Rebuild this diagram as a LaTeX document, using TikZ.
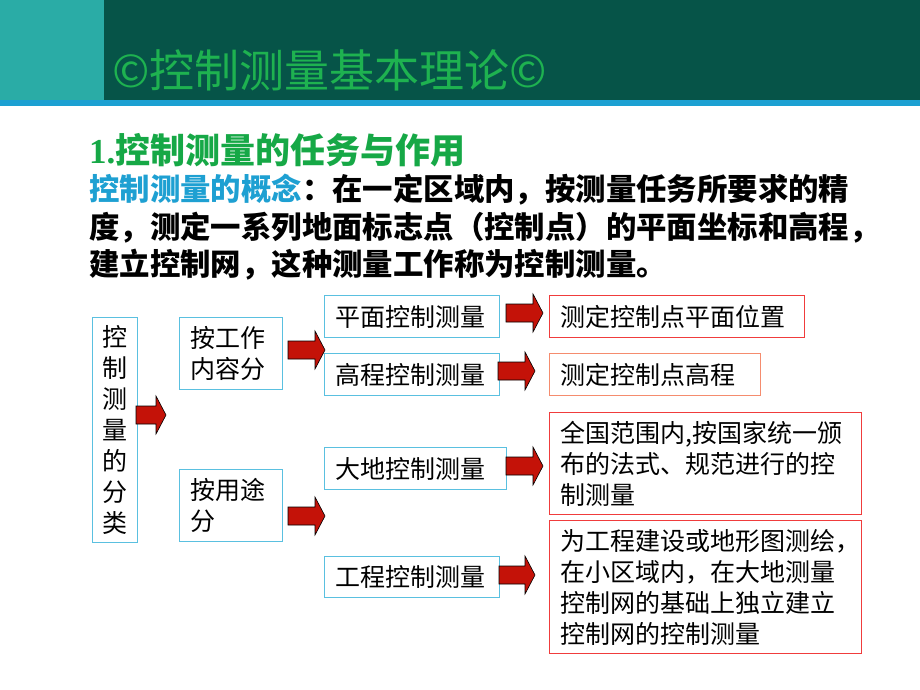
\documentclass[tikz,border=0pt]{standalone}
\usepackage{fontspec}
\setmainfont{Noto Sans CJK SC}
\newfontfamily\latinserif{Liberation Serif}
\definecolor{bandlight}{RGB}{42,172,166}
\definecolor{banddark}{RGB}{6,84,72}
\definecolor{bandblue}{RGB}{28,160,210}
\definecolor{titlegreen}{RGB}{30,178,80}
\definecolor{headgreen}{RGB}{22,168,70}
\definecolor{termblue}{RGB}{30,160,210}
\definecolor{boxblue}{RGB}{90,192,224}
\definecolor{boxred}{RGB}{240,60,60}
\definecolor{boxorange}{RGB}{245,140,110}
\definecolor{arrowred}{RGB}{196,18,8}
\tikzset{
  pbox/.style={draw=boxblue, line width=1.1pt, anchor=north west, inner xsep=11pt, inner ysep=0pt,
    font=\fontsize{25}{31}\selectfont, align=left},
  rbox/.style={pbox, draw=boxred},
  bodyline/.style={anchor=west, inner sep=0pt, font=\fontsize{30.4}{36}\selectfont\bfseries},
  barrowst/.style={fill=arrowred, draw=black, line width=0.6pt, line join=miter},
  pics/blockarrow/.style={code={
    \draw[barrowst] (0,-9) -- (#1-10,-9) -- (#1-10,-19) -- (#1,0) -- (#1-10,19) -- (#1-10,9) -- (0,9) -- cycle;
  }}
}
\begin{document}
\begin{tikzpicture}[x=1pt,y=-1pt]
\useasboundingbox (0,0) rectangle (920,690);
\fill[white] (0,0) rectangle (920,690);
% header band
\fill[bandlight] (0,0) rectangle (104,100);
\fill[banddark] (104,0) rectangle (920,100);
\fill[bandblue] (0,100) rectangle (920,106);
\node[anchor=west, inner sep=0pt, text=titlegreen, font=\fontsize{45}{52}\selectfont] (title) at (112,70) {©控制测量基本理论©};
% heading and concept text
\node[anchor=west, inner sep=0pt, text=headgreen, font=\fontsize{35}{40}\selectfont\bfseries] (head) at (89,150) {{\latinserif 1.}控制测量的任务与作用};
\node[bodyline] (l1) at (89,190) {\textcolor{termblue}{控制测量的概念}：在一定区域内，按测量任务所要求的精};
\node[bodyline] (l2) at (89,228) {度，测定一系列地面标志点（控制点）的平面坐标和高程，};
\node[bodyline] (l3) at (89,265) {建立控制网，这种测量工作称为控制测量。};
% classification boxes
\node[pbox, minimum width=45pt, minimum height=225pt, text width=25pt, inner xsep=10pt, align=center] (cls) at (92,317) {控\\制\\测\\量\\的\\分\\类};
\node[pbox, minimum width=103pt, minimum height=72pt, text width=81pt] (bywork) at (179,317) {按工作\\内容分};
\node[pbox, minimum width=103pt, minimum height=72pt, text width=81pt] (byuse) at (179,469) {按用途\\分};
\node[pbox, minimum width=175pt, minimum height=42pt, text width=153pt] (plane) at (324,295) {平面控制测量};
\node[pbox, minimum width=175pt, minimum height=42pt, text width=153pt] (height) at (324,353) {高程控制测量};
\node[pbox, minimum width=182pt, minimum height=42pt, text width=160pt] (geo) at (324,447) {大地控制测量};
\node[pbox, minimum width=175pt, minimum height=41pt, text width=153pt] (eng) at (324,556) {工程控制测量};
% result boxes
\node[rbox, minimum width=255pt, minimum height=42pt, text width=233pt] (dplane) at (549,295) {测定控制点平面位置};
\node[rbox, draw=boxorange, minimum width=211pt, minimum height=42pt, text width=189pt] (dheight) at (549,353) {测定控制点高程};
\node[rbox, minimum width=312pt, minimum height=102pt, text width=290pt] (dgeo) at (549,412) {全国范围内,按国家统一颁\\布的法式、规范进行的控\\制测量};
\node[rbox, minimum width=312pt, minimum height=133pt, text width=290pt] (deng) at (549,520) {为工程建设或地形图测绘，\\在小区域内，在大地测量\\控制网的基础上独立建立\\控制网的控制测量};
% block arrows
\pic (a1) at (136,415) {blockarrow=30};
\pic (a2) at (288,350) {blockarrow=37};
\pic (a3) at (288,516) {blockarrow=37};
\pic (a4) at (506,313) {blockarrow=37};
\pic (a5) at (498,371) {blockarrow=37};
\pic (a6) at (506,466) {blockarrow=37};
\pic (a7) at (499,575) {blockarrow=36};
\end{tikzpicture}
\end{document}
